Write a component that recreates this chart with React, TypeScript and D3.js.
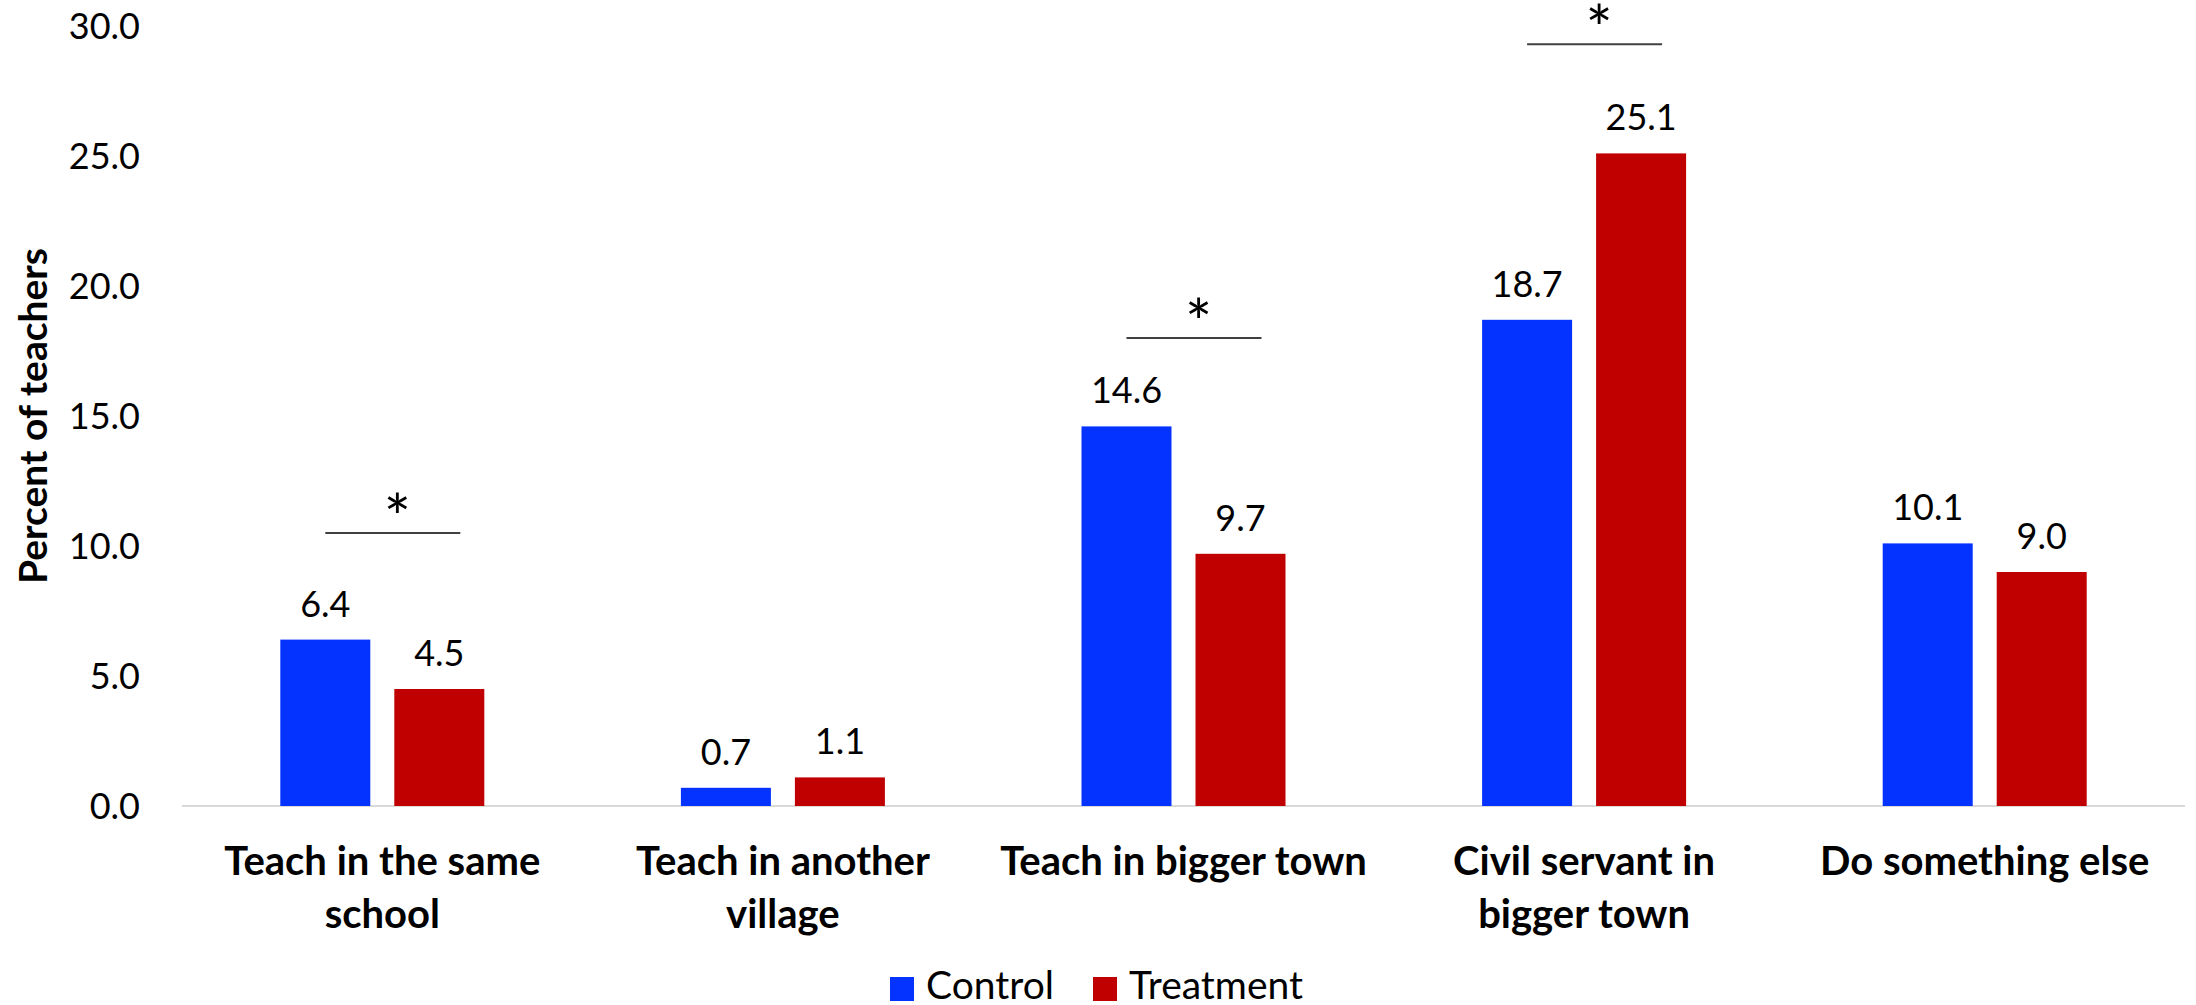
import React from "react";
import * as d3 from "d3";

const categories = [
  ["Teach in the same", "school"],
  ["Teach in another", "village"],
  ["Teach in bigger town"],
  ["Civil servant in", "bigger town"],
  ["Do something else"],
];
const seriesNames = ["Control", "Treatment"];
const controlValues = [6.4, 0.7, 14.6, 18.7, 10.1];
const treatmentValues = [4.5, 1.1, 9.7, 25.1, 9.0];
const yTicks = [0, 5, 10, 15, 20, 25, 30];
// significance markers: category index and the level (in percent) of the bracket line
const sigCategories = [0, 2, 3];
const sigLevels = [10.5, 18.0, 29.3];

const W = 2196;
const H = 1005;
const COLORS: Record<string, string> = { Control: "#0433FF", Treatment: "#C00000" };
const FONT = "Lato, 'Open Sans', sans-serif";

export default function App() {
  const keys = categories.map((c) => c.join(" "));
  const x0 = d3.scaleBand<string>().domain(keys).range([182, 2185]).paddingInner(0).paddingOuter(0);
  const x1 = d3.scaleBand<string>().domain(seriesNames).range([-102, 102]).paddingInner(0.2105).paddingOuter(0);
  const y = d3.scaleLinear().domain([0, 30]).range([806, 26]);
  const values: Record<string, number[]> = { Control: controlValues, Treatment: treatmentValues };
  const center = (i: number) => (x0(keys[i]) as number) + x0.bandwidth() / 2;

  return (
    <svg width={W} height={H} style={{ position: "absolute", left: 0, top: 0, background: "#fff" }} fontFamily={FONT}>
      {/* y tick labels */}
      {yTicks.map((t) => (
        <text key={t} x={140} y={y(t)} dy="0.35em" textAnchor="end" fontSize={36} fill="#000">
          {d3.format(".1f")(t)}
        </text>
      ))}
      {/* y axis title */}
      <text transform="translate(47,416) rotate(-90)" textAnchor="middle" fontSize={39} fontWeight={700} fill="#000">
        Percent of teachers
      </text>
      {/* baseline */}
      <line x1={182} x2={2185} y1={y(0)} y2={y(0)} stroke="#d9d9d9" strokeWidth={2} />
      {/* bars and value labels */}
      {keys.map((k, i) => (
        <g key={k}>
          {seriesNames.map((s) => {
            const v = values[s][i];
            const bx = center(i) + (x1(s) as number);
            return (
              <g key={s}>
                <rect x={bx} y={y(v)} width={x1.bandwidth()} height={y(0) - y(v)} fill={COLORS[s]} />
                <text x={bx + x1.bandwidth() / 2} y={y(v) - 23} textAnchor="middle" fontSize={36} fill="#000">
                  {d3.format(".1f")(v)}
                </text>
              </g>
            );
          })}
          <text textAnchor="middle" fontSize={40} fontWeight={700} fill="#000">
            {categories[i].map((line, j) => (
              <tspan key={j} x={center(i)} y={875 + j * 53}>
                {line}
              </tspan>
            ))}
          </text>
        </g>
      ))}
      {/* significance brackets */}
      {sigCategories.map((ci, j) => {
        const c = center(ci);
        const ly = y(sigLevels[j]);
        return (
          <g key={ci}>
            <line x1={c - 57} x2={c + 78} y1={ly} y2={ly} stroke="#404040" strokeWidth={2} />
            <text x={c + 15} y={ly + 8} textAnchor="middle" fontSize={64} fill="#000">
              *
            </text>
          </g>
        );
      })}
      {/* legend */}
      {seriesNames.map((s, i) => {
        const lx = [890, 1093][i];
        return (
          <g key={s}>
            <rect x={lx} y={977} width={24} height={24} fill={COLORS[s]} />
            <text x={lx + 36} y={999} fontSize={39} fill="#000">
              {s}
            </text>
          </g>
        );
      })}
    </svg>
  );
}
